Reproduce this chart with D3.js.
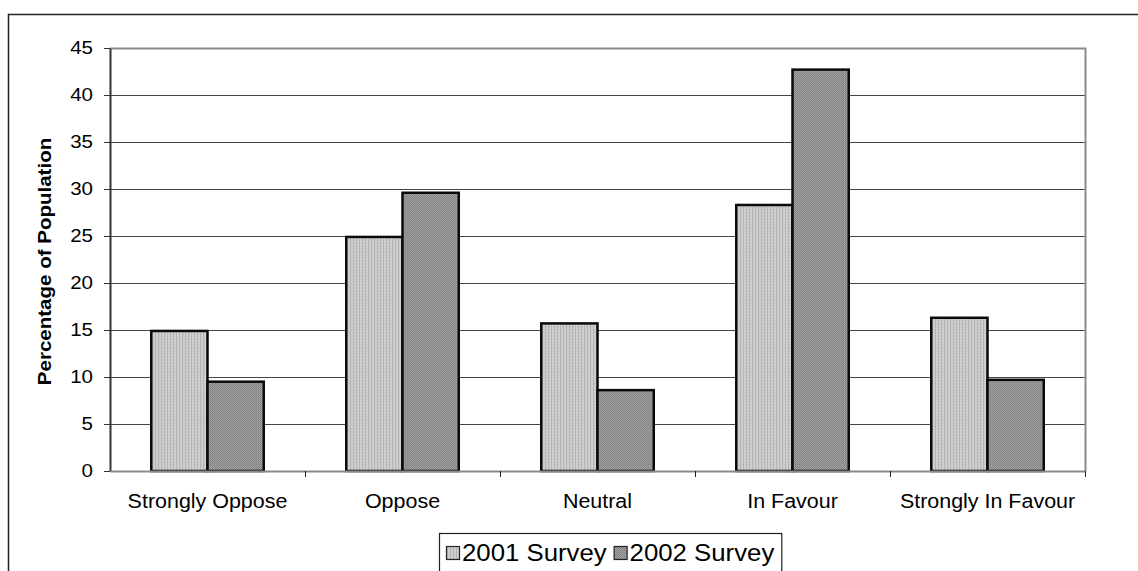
<!DOCTYPE html>
<html>
<head>
<meta charset="utf-8">
<script src="https://cdn.jsdelivr.net/npm/d3@7/dist/d3.min.js"></script>
<style>
  html, body { margin: 0; padding: 0; background: #fff; }
  svg { display: block; font-family: Arial, "Liberation Sans", sans-serif; }
</style>
</head>
<body>
<svg id="chart" width="1138" height="571"></svg>
<script>
// Survey responses, percentage of population
const categories = ["Strongly Oppose", "Oppose", "Neutral", "In Favour", "Strongly In Favour"];
const seriesNames = ["2001 Survey", "2002 Survey"];
const survey2001 = [14.9, 24.9, 15.7, 28.3, 16.3];
const survey2002 = [9.5, 29.6, 8.6, 42.7, 9.7];
const yTicks = [0, 5, 10, 15, 20, 25, 30, 35, 40, 45];

const FONT = "Arial, 'Liberation Sans', sans-serif";
const svg = d3.select("#chart");

// Widen glyphs a little, as the chart's labels are set in a broad face
function widen(sel, k) {
  sel.each(function () {
    const w = this.getComputedTextLength();
    d3.select(this).attr("textLength", w * k).attr("lengthAdjust", "spacingAndGlyphs");
  });
}

// Textured fills
const defs = svg.append("defs");
const p1 = defs.append("pattern").attr("id", "fill2001")
  .attr("patternUnits", "userSpaceOnUse").attr("width", 3).attr("height", 3);
p1.append("rect").attr("width", 3).attr("height", 3).attr("fill", "#cbcbcb");
p1.append("rect").attr("x", 0).attr("y", 0).attr("width", 1).attr("height", 3).attr("fill", "#b4b4b4");
p1.append("rect").attr("x", 2).attr("y", 1).attr("width", 1).attr("height", 1).attr("fill", "#dadada");

const p2 = defs.append("pattern").attr("id", "fill2002")
  .attr("patternUnits", "userSpaceOnUse").attr("width", 2).attr("height", 2);
p2.append("rect").attr("width", 2).attr("height", 2).attr("fill", "#a0a0a0");
p2.append("rect").attr("x", 0).attr("y", 0).attr("width", 1).attr("height", 1).attr("fill", "#7e7e7e");
p2.append("rect").attr("x", 1).attr("y", 1).attr("width", 1).attr("height", 1).attr("fill", "#8a8a8a");

const fills = ["url(#fill2001)", "url(#fill2002)"];

// Outer chart frame
svg.append("rect")
  .attr("x", 8.5).attr("y", 14.5).attr("width", 1140).attr("height", 580)
  .attr("fill", "none").attr("stroke", "#222").attr("stroke-width", 1.5);

const plot = { left: 110, right: 1085, top: 48, bottom: 471 };

const x0 = d3.scaleBand().domain(categories).range([plot.left, plot.right]).paddingInner(0).paddingOuter(0);
const x1 = d3.scaleBand().domain(seriesNames).range([0, x0.bandwidth()]).paddingInner(0).paddingOuter(0.7333);
const y = d3.scaleLinear().domain([0, 45]).range([plot.bottom, plot.top]);

// Gridlines
svg.append("g").selectAll("line").data(yTicks.filter(t => t > 0 && t < 45)).join("line")
  .attr("x1", plot.left).attr("x2", plot.right)
  .attr("y1", d => y(d) + 0.5).attr("y2", d => y(d) + 0.5)
  .attr("stroke", "#444").attr("stroke-width", 1);

// Plot area border (top and right)
svg.append("path")
  .attr("d", `M${plot.left},${plot.top + 0.5} H${plot.right + 0.5} V${plot.bottom}`)
  .attr("fill", "none").attr("stroke", "#8a8a8a").attr("stroke-width", 2);

// Bars
const rows = categories.map((c, i) => ({ cat: c, values: [survey2001[i], survey2002[i]] }));
const groups = svg.append("g").selectAll("g").data(rows).join("g")
  .attr("transform", d => `translate(${x0(d.cat)},0)`);
groups.selectAll("rect").data(d => d.values.map((v, j) => ({ name: seriesNames[j], v, j }))).join("rect")
  .attr("x", d => x1(d.name))
  .attr("width", x1.bandwidth())
  .attr("y", d => y(d.v))
  .attr("height", d => y(0) - y(d.v))
  .attr("fill", d => fills[d.j])
  .attr("stroke", "#0a0a0a").attr("stroke-width", 2.5);

// Y axis
const yAxis = svg.append("g").attr("transform", `translate(${plot.left},0)`)
  .call(d3.axisLeft(y).tickValues(yTicks).tickSize(6).tickPadding(11).tickSizeOuter(0));
yAxis.select(".domain").attr("stroke", "#333").attr("stroke-width", 2);
yAxis.selectAll(".tick line").attr("stroke", "#333");
yAxis.selectAll(".tick text").attr("font-size", 18).attr("fill", "#000").attr("font-family", FONT)
  .call(widen, 1.14);

// X axis
const xAxis = svg.append("g").attr("transform", `translate(0,${plot.bottom})`)
  .call(d3.axisBottom(x0).tickSize(0).tickPadding(23));
xAxis.select(".domain").attr("stroke", "#8a8a8a").attr("stroke-width", 2);
xAxis.selectAll(".tick text").attr("font-size", 19.5).attr("fill", "#000").attr("font-family", FONT)
  .call(widen, 1.1);
// Tick marks between categories
const bounds = categories.map(c => x0(c) + x0.bandwidth());
svg.append("g").selectAll("line").data(bounds).join("line")
  .attr("x1", d => d + 0.5).attr("x2", d => d + 0.5)
  .attr("y1", plot.bottom).attr("y2", plot.bottom + 6)
  .attr("stroke", "#222").attr("stroke-width", 1);

// Y axis title
svg.append("text")
  .attr("transform", `translate(51,${(plot.top + plot.bottom) / 2 + 2}) rotate(-90)`)
  .attr("text-anchor", "middle")
  .attr("font-size", 18).attr("font-weight", "bold").attr("font-family", FONT)
  .text("Percentage of Population")
  .call(widen, 1.14);

// Legend: entries laid out left to right inside a framed box
const legend = svg.append("g");
const legendBox = legend.append("rect")
  .attr("x", 439.5).attr("y", 533.5).attr("height", 60)
  .attr("fill", "#fff").attr("stroke", "#222").attr("stroke-width", 1.2);
let lx = 446;
seriesNames.forEach((name, i) => {
  legend.append("rect")
    .attr("x", lx + 0.5).attr("y", 546.5).attr("width", 13).attr("height", 13)
    .attr("fill", fills[i]).attr("stroke", "#222").attr("stroke-width", 1.2);
  const t = legend.append("text")
    .attr("x", lx + 16).attr("y", 561)
    .attr("font-size", 23).attr("fill", "#000").attr("font-family", FONT)
    .text(name)
    .call(widen, 1.12);
  lx += 16 + (+t.attr("textLength")) + 7;
});
legendBox.attr("width", lx - 439);
</script>
</body>
</html>
